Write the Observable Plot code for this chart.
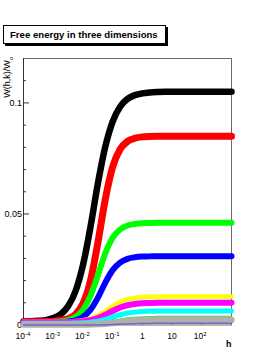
<!DOCTYPE html>
<html>
<head>
<meta charset="utf-8">
<script src="https://cdn.jsdelivr.net/npm/d3@7"></script>
<script src="https://cdn.jsdelivr.net/npm/@observablehq/plot@0.6"></script>
<style>
  html, body { margin: 0; padding: 0; background: #fff; }
  #wrap { position: relative; width: 277px; height: 358px; overflow: hidden; }
  #title {
    position: absolute; left: 3px; top: 25px; width: 155px; height: 17px;
    border: 1px solid #000; box-shadow: 2px 2px 0 #000; background: #fff;
    font: bold 9.6px "Liberation Sans", Arial, Helvetica, sans-serif;
    line-height: 17px; padding-left: 6px; color: #000; white-space: nowrap;
  }
  svg { font-family: "Liberation Sans", Arial, Helvetica, sans-serif; }
</style>
</head>
<body>
<div id="wrap"><div id="title">Free energy in three dimensions</div></div>
<script>
// h grid (log spaced, quarter decades from 1e-4 to 1e3)
const hValues = [1e-4, 1.78e-4, 3.16e-4, 5.62e-4, 1e-3, 1.78e-3, 3.16e-3, 5.62e-3, 1e-2, 1.78e-2, 3.16e-2, 5.62e-2,
  0.1, 0.178, 0.316, 0.562, 1, 1.78, 3.16, 5.62, 10, 17.8, 31.6, 56.2, 100, 178, 316, 562, 1000];

const blackValues = [0.0016,0.0017,0.0019,0.0022,0.0031,0.0048,0.0084,0.0152,0.0269,0.0439,0.0634,0.0801,0.0916,0.0983,0.1018,0.1035,0.1043,0.1047,0.1049,0.105,0.105,0.105,0.105,0.105,0.105,0.105,0.105,0.105,0.105];
const redValues = [0.0015,0.0015,0.0015,0.0016,0.0017,0.0020,0.0028,0.0048,0.0096,0.0198,0.0368,0.0564,0.0711,0.0791,0.0827,0.0841,0.0847,0.0849,0.085,0.085,0.085,0.085,0.085,0.085,0.085,0.085,0.085,0.085,0.085];
const greenValues = [0.0012,0.0012,0.0012,0.0013,0.0014,0.0016,0.0022,0.0036,0.0068,0.0130,0.0223,0.0322,0.0393,0.0430,0.0448,0.0455,0.0458,0.0459,0.046,0.046,0.046,0.046,0.046,0.046,0.046,0.046,0.046,0.046,0.046];
const blueValues = [0.0010,0.0010,0.0010,0.0010,0.0011,0.0012,0.0015,0.0021,0.0036,0.0068,0.0122,0.0190,0.0247,0.0281,0.0298,0.0305,0.0308,0.0309,0.031,0.031,0.031,0.031,0.031,0.031,0.031,0.031,0.031,0.031,0.031];
const yellowValues = [0.0015,0.0015,0.0015,0.0015,0.0015,0.0016,0.0016,0.0018,0.0022,0.0029,0.0043,0.0062,0.0085,0.0104,0.0116,0.0122,0.0125,0.0127,0.0127,0.0128,0.0128,0.0128,0.0128,0.0128,0.0128,0.0128,0.0128,0.0128,0.0128];
const magentaValues = [0.0012,0.0012,0.0012,0.0012,0.0012,0.0012,0.0013,0.0014,0.0017,0.0022,0.0031,0.0046,0.0063,0.0079,0.0089,0.0095,0.0098,0.0099,0.0100,0.0100,0.0100,0.0100,0.0100,0.0100,0.0100,0.0100,0.0100,0.0100,0.0100];
const cyanValues = [0.0008,0.0008,0.0008,0.0008,0.0008,0.0008,0.0008,0.0009,0.0010,0.0013,0.0017,0.0025,0.0036,0.0046,0.0054,0.0058,0.0061,0.0062,0.0063,0.0063,0.0063,0.0063,0.0063,0.0063,0.0063,0.0063,0.0063,0.0063,0.0063];
const lightGreenValues = [0.0006,0.0006,0.0006,0.0006,0.0006,0.0006,0.0006,0.0006,0.0007,0.0008,0.0011,0.0014,0.0020,0.0026,0.0031,0.0034,0.0036,0.0037,0.0038,0.0038,0.0038,0.0038,0.0038,0.0038,0.0038,0.0038,0.0038,0.0038,0.0038];
const grayValues = [0.0002,0.0002,0.0002,0.0002,0.0002,0.0002,0.0002,0.0002,0.0002,0.0003,0.0004,0.0006,0.0009,0.0013,0.0016,0.0018,0.0020,0.0021,0.0022,0.0022,0.0022,0.0022,0.0022,0.0022,0.0022,0.0022,0.0022,0.0022,0.0022];
const purpleValues = [0.0000,0.0000,0.0000,0.0000,0.0000,0.0000,0.0000,0.0000,0.0000,0.0000,0.0000,0.0001,0.0002,0.0004,0.0005,0.0006,0.0007,0.0007,0.0008,0.0008,0.0008,0.0008,0.0008,0.0008,0.0008,0.0008,0.0008,0.0008,0.0008];

// axis ticks and labels
const yMajorTicks = [0, 0.05, 0.1];
const yTickLabels = ["0", "0.05", "0.1"];
const yMinorTicks = [0.01, 0.02, 0.03, 0.04, 0.06, 0.07, 0.08, 0.09, 0.11];
const xMajorTicks = [1e-4, 1e-3, 1e-2, 1e-1, 1, 10, 100];
const xTickBase = ["10", "10", "10", "10", "1", "10", "10"];
const xTickExp = ["-4", "-3", "-2", "-1", "", "", "2"];

const seriesList = [
  {values: blackValues, color: "#000000", width: 6.5},
  {values: redValues, color: "#ff0000", width: 7},
  {values: greenValues, color: "#00ff00", width: 6},
  {values: blueValues, color: "#0000ff", width: 6},
  {values: yellowValues, color: "#ffff00", width: 4.5},
  {values: magentaValues, color: "#ff00ff", width: 6},
  {values: cyanValues, color: "#00ffff", width: 5},
  {values: lightGreenValues, color: "#66cc66", width: 1.5},
  {values: grayValues, color: "#b4aea8", width: 6.5},
  {values: purpleValues, color: "#6a6ad0", width: 1.5}
];

const frameW = 277 - 23 - 46;
const frameH = 358 - 58 - 33.5;

const lineMarks = seriesList.map(s => Plot.line(hValues.map((h, i) => ({h, v: s.values[i]})), {
  x: "h", y: "v", stroke: s.color, strokeWidth: s.width, curve: "monotone-x", strokeLinecap: "round", strokeLinejoin: "round"
}));

const xTickData = xMajorTicks.map((t, i) => ({t, base: xTickBase[i], exp: xTickExp[i]}));

const chart = Plot.plot({
  width: 277, height: 358,
  marginLeft: 23, marginRight: 46, marginTop: 58, marginBottom: 33.5,
  x: {type: "log", domain: [1e-4, 1e3], axis: null},
  y: {domain: [0, 0.12], axis: null},
  style: {background: "transparent", overflow: "visible"},
  marks: [
    Plot.frame({stroke: "#6a6a6a", strokeWidth: 1}),
    Plot.ruleX([1e-4], {stroke: "#333", strokeWidth: 1}),
    Plot.ruleY(yMajorTicks, {stroke: "#333", insetRight: frameW - 6}),
    Plot.ruleY(yMinorTicks, {stroke: "#333", insetRight: frameW - 3}),
    Plot.ruleX(xMajorTicks, {stroke: "#333", insetTop: frameH - 6}),
    Plot.text(yMajorTicks, {y: d => d, frameAnchor: "left", text: (d, i) => yTickLabels[i], textAnchor: "end", dx: -1.5, fontSize: 9, fill: "#000"}),
    Plot.text(xTickData.filter(d => d.exp !== ""), {x: "t", frameAnchor: "bottom", text: "base", textAnchor: "end", dx: 1.5, dy: 14, fontSize: 8.5, fill: "#000"}),
    Plot.text(xTickData.filter(d => d.exp !== ""), {x: "t", frameAnchor: "bottom", text: "exp", textAnchor: "start", dx: 1.5, dy: 10.5, fontSize: 6, fill: "#000"}),
    Plot.text(xTickData.filter(d => d.exp === ""), {x: "t", frameAnchor: "bottom", text: "base", textAnchor: "middle", dy: 14, fontSize: 8.5, fill: "#000"}),
    Plot.text(["h"], {frameAnchor: "bottom-right", textAnchor: "end", dy: 21.5, fontSize: 9, fontWeight: "bold", fill: "#000"}),
    ...lineMarks
  ]
});

const svg = d3.select(chart);
const ylab = svg.append("text")
  .attr("transform", "translate(10,57) rotate(-90)")
  .attr("text-anchor", "end")
  .attr("font-size", 9)
  .attr("fill", "#000");
ylab.append("tspan").text("W(h,k)/W");
ylab.append("tspan").attr("font-size", 6).attr("dy", 2.5).text("o");

document.getElementById("wrap").insertBefore(chart, document.getElementById("title"));
chart.style.position = "absolute";
chart.style.left = "0px";
chart.style.top = "0px";
</script>
</body>
</html>
